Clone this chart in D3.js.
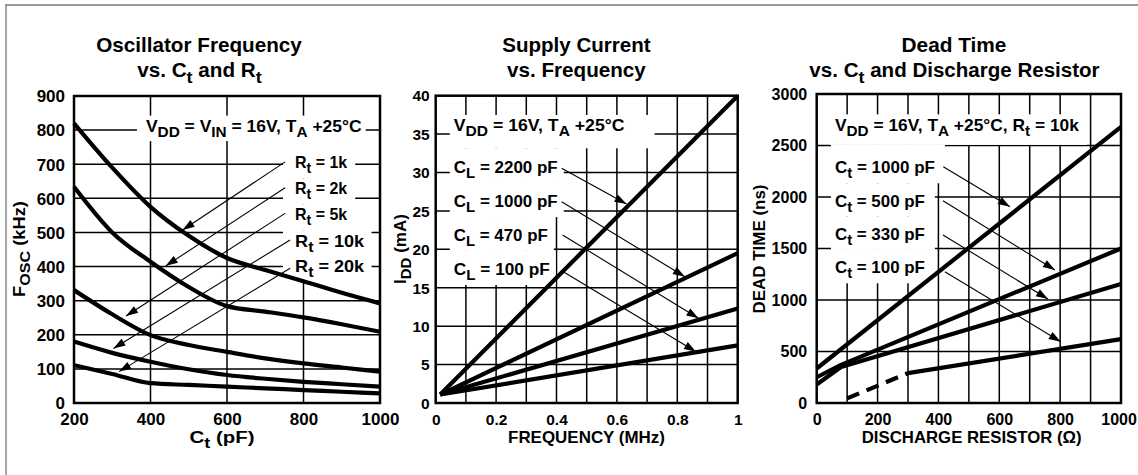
<!DOCTYPE html>
<html><head><meta charset="utf-8">
<script src="https://cdn.jsdelivr.net/npm/d3@7"></script>
<style>
body{margin:0;background:#fff}
svg{display:block}
text{font-family:"Liberation Sans",Arial,Helvetica,sans-serif;font-weight:bold;fill:#000;white-space:pre}
</style>
</head><body><svg id="c" width="1138" height="475"></svg>
<script>
// ================= DATA =================
// Panel 1 : Oscillator Frequency vs Ct and Rt
const ctPF      = [200, 300, 400, 500, 600, 700, 800, 900, 1000];
const fosc1k    = [820, 690, 575, 490, 425, 390, 357, 323, 292];
const fosc2k    = [634, 500, 414, 340, 284, 268, 251, 231, 209];
const fosc5k    = [331, 260, 199, 170, 150, 131, 116, 104, 92];
const fosc10k   = [180, 147, 121, 99, 82, 71, 62, 55, 48];
const fosc20k   = [111, 85, 58, 53, 48, 43, 38, 33, 28];
const rtNames   = ["1k", "2k", "5k", "10k", "20k"];
const foscTicks = [0, 100, 200, 300, 400, 500, 600, 700, 800, 900];
const ctTicks   = [200, 400, 600, 800, 1000];
const ctGrid    = [400, 600, 800];
// annotation anchors (data units)
const p1Header  = [388, 794];
const p1LabelC  = 778;
const p1LabelF  = [688, 612, 536, 457, 383];
const p1Arrows  = [[752, 707, 484, 507], [752, 631, 440, 402], [752, 556, 336, 255], [765, 478, 303, 160], [765, 395, 318, 92]];

// Panel 2 : Supply Current vs Frequency
const freqMHz   = [0.015, 1.0];
const idd2200   = [1.1, 40];
const idd1000   = [1.1, 19.5];
const idd470    = [1.1, 12.3];
const idd100    = [1.1, 7.5];
const clNames   = ["2200 pF", "1000 pF", "470 pF", "100 pF"];
const iddTicks  = [0, 5, 10, 15, 20, 25, 30, 35, 40];
const freqTicks = [0, 0.2, 0.4, 0.6, 0.8, 1];
const freqTickLabels = ["0", "0.2", "0.4", "0.6", "0.8", "1"];
const freqGrid  = [0.1, 0.2, 0.3, 0.4, 0.5, 0.6, 0.7, 0.8, 0.9];
const p2Header  = [0.06, 35.35];
const p2LabelX  = 0.06;
const p2LabelI  = [29.94, 25.5, 21.1, 16.66];
const p2Arrows  = [[0.417, 30.55, 0.632, 25.9], [0.417, 26.2, 0.825, 16.44], [0.42, 21.87, 0.87, 11.03], [0.4225, 17.09, 0.862, 6.68]];

// Panel 3 : Dead Time vs Ct and Discharge Resistor
const rdis1000  = [0, 1000];
const dt1000    = [335, 2680];
const rdis500   = [0, 80, 1000];
const dt500     = [250, 370, 1500];
const rdis330   = [0, 80, 1000];
const dt330     = [180, 350, 1155];
const rdis100a  = [100, 300];          // dashed part
const dt100a    = [45, 290];
const rdis100b  = [300, 1000];         // solid part
const dt100b    = [290, 620];
const ctNames   = ["1000 pF", "500 pF", "330 pF", "100 pF"];
const dtTicks   = [0, 500, 1000, 1500, 2000, 2500, 3000];
const rTicks    = [0, 200, 400, 600, 800, 1000];
const rGrid     = [100, 200, 300, 400, 500, 600, 700, 800, 900];
const p3Header  = [60, 2641];
const p3LabelR  = 60;
const p3LabelT  = [2230, 1906, 1583, 1259];
const p3Arrows  = [[416, 2294, 635, 1906], [415, 1964, 783, 1291], [415, 1631, 760, 1010], [421, 1275, 802, 595]];

// ================= DRAWING =================
const svg = d3.select("#c");
const SVG_W = 1138;

// outer frame lines
svg.append("line").attr("x1",5).attr("y1",5).attr("x2",1138).attr("y2",5).attr("stroke","#777").attr("stroke-width",1.3);
svg.append("line").attr("x1",6).attr("y1",5).attr("x2",6).attr("y2",475).attr("stroke","#777").attr("stroke-width",1.3);

function richText(g, str, x, y, size, subSize, subShift, anchor) {
  const t = g.append("text").attr("x", x).attr("y", y).attr("font-size", size)
    .attr("text-anchor", anchor || "start");
  const parts = str.split(/(\{[^}]*\})/).filter(s => s.length);
  let reset = false;
  parts.forEach(p => {
    if (p[0] === "{") {
      t.append("tspan").attr("font-size", subSize).attr("dy", subShift).text(p.slice(1, -1));
      reset = true;
    } else {
      const ts = t.append("tspan").text(p);
      if (reset) { ts.attr("dy", -subShift); reset = false; }
    }
  });
  return t;
}
function fit(t, target, cx, cy, vertical) {
  const bb = t.node().getBBox();
  const s = target / bb.width;
  if (vertical) t.attr("transform", `rotate(-90 ${cx} ${cy}) translate(${cx} ${cy}) scale(${s},1) translate(${-cx} ${-cy})`);
  else t.attr("transform", `translate(${cx} 0) scale(${s},1) translate(${-cx} 0)`);
  return t;
}
function bbox(t) {
  const b = t.node().getBBox();
  const m = t.node().getCTM();
  const x0 = m.a * b.x + m.e;
  const w = b.width * m.a;
  return {x: x0, y: b.y, w: w, h: b.height, r: x0 + w, b: b.y + b.height};
}
function arrow(g, x1, y1, x2, y2) {
  g.append("line").attr("x1", x1).attr("y1", y1).attr("x2", x2).attr("y2", y2)
    .attr("stroke", "#000").attr("stroke-width", 1.1);
  const a = Math.atan2(y2 - y1, x2 - x1), L = 12, Wd = 4;
  const bx = x2 - L * Math.cos(a), by = y2 - L * Math.sin(a);
  const nx = -Math.sin(a), ny = Math.cos(a);
  g.append("polygon").attr("points", `${x2},${y2} ${bx + nx * Wd},${by + ny * Wd} ${bx - nx * Wd},${by - ny * Wd}`)
    .attr("fill", "#000");
}

function panel(cfg) {
  const g = svg.append("g");
  const x = cfg.x, y = cfg.y;
  const [X0, X1] = x.range(), [Y1, Y0] = y.range();
  // grid
  cfg.xGrid.forEach(v => g.append("line").attr("x1", x(v)).attr("x2", x(v)).attr("y1", Y0).attr("y2", Y1)
    .attr("stroke", "#000").attr("stroke-width", 1.5));
  cfg.yGrid.forEach(v => g.append("line").attr("x1", X0).attr("x2", X1).attr("y1", y(v)).attr("y2", y(v))
    .attr("stroke", "#000").attr("stroke-width", 1.5));
  // axes labels
  const ya = g.append("g").attr("transform", `translate(${X0},0)`)
    .call(d3.axisLeft(y).tickValues(cfg.yTicks).tickSize(0).tickPadding(cfg.yPad).tickFormat(d3.format("d")));
  const xa = g.append("g").attr("transform", `translate(0,${Y1})`)
    .call(d3.axisBottom(x).tickValues(cfg.xTicks).tickSize(0).tickPadding(cfg.tickFs > 16.5 ? 10 : 11)
      .tickFormat((d, i) => cfg.xTickLabels ? cfg.xTickLabels[i] : String(d)));
  [ya, xa].forEach(a => {
    a.select(".domain").remove();
    a.attr("font-family", null).attr("font-size", null);
    a.selectAll("text").attr("font-size", cfg.tickFs).attr("fill", "#000");
  });
  ya.selectAll("text").attr("dy", "0.34em");
  // keep the last x label inside the picture
  xa.selectAll(".tick").each(function () {
    const t = d3.select(this).select("text");
    const b = this.getBBox();
    const tr = this.transform.baseVal.consolidate().matrix;
    const right = tr.e + b.x + b.width;
    if (right > SVG_W - 1) t.attr("x", -(right - (SVG_W - 1)));
  });
  const line = d3.line().x(d => x(d[0])).y(d => y(d[1])).curve(cfg.curve || d3.curveLinear);
  const boxes = g.append("g");
  cfg.series.forEach(s => {
    g.append("path").attr("d", line(s.xs.map((v, i) => [v, s.ys[i]])))
      .attr("fill", "none").attr("stroke", "#000").attr("stroke-width", 4.2)
      .attr("stroke-linejoin", "round").attr("stroke-dasharray", s.dash || null);
  });
  // frame
  g.append("rect").attr("x", X0).attr("y", Y0).attr("width", X1 - X0).attr("height", Y1 - Y0)
    .attr("fill", "none").attr("stroke", "#000").attr("stroke-width", 2.5);
  // annotations
  const tg = g.append("g");
  const hx = x(cfg.header[0]), hy = y(cfg.header[1]);
  const ht = richText(tg, cfg.headerText, hx, hy, 16.5, 14.5, 5, "start");
  fit(ht, cfg.headerW, hx, hy);
  const hb = bbox(ht);
  const hBox = {x0: hx - cfg.hPadL, x1: hb.r + cfg.hPadR, y0: hb.y - 2, y1: hb.b + cfg.hPadB};
  boxes.append("rect").attr("x", hBox.x0).attr("y", hBox.y0).attr("width", hBox.x1 - hBox.x0)
    .attr("height", hBox.y1 - hBox.y0).attr("fill", "#fff");
  let prevBottom = hBox.y1;
  cfg.labels.forEach((lb, i) => {
    const lx = x(cfg.labelX), ly = y(cfg.labelY[i]);
    const t = richText(tg, lb, lx, ly, 16.5, 14.5, 5, "start");
    fit(t, cfg.labelW[i], lx, ly);
    const b = bbox(t);
    const left = cfg.boxLeft != null ? cfg.boxLeft : lx - 4;
    const bot = b.b + 2;
    boxes.append("rect").attr("x", left).attr("y", prevBottom).attr("width", b.r + cfg.lPadR - left)
      .attr("height", bot - prevBottom).attr("fill", "#fff");
    prevBottom = bot;
  });
  cfg.arrows.forEach(a => arrow(tg, x(a[0]), y(a[1]), x(a[2]), y(a[3])));
  // titles
  const t1 = richText(g, cfg.title1, cfg.titleX, 51.7, 19.5, 17, 6, "middle");
  fit(t1, cfg.title1W, cfg.titleX, 51.7);
  const t2 = richText(g, cfg.title2, cfg.titleX2, 77, 19.5, 17, 6, "middle");
  fit(t2, cfg.title2W, cfg.titleX2, 77);
  // axis titles
  const xt = richText(g, cfg.xTitle, cfg.xTitleX, 443.5, 16.5, 14.5, 5, "middle");
  fit(xt, cfg.xTitleW, cfg.xTitleX, 443.5);
  const yt = richText(g, cfg.yTitle, cfg.yTitleX, 249, 16.5, 14.5, 5, "middle");
  fit(yt, cfg.yTitleW, cfg.yTitleX, 249, true);
}

const x1 = d3.scaleLinear([200, 1000], [74, 380]);
const y1 = d3.scaleLinear([0, 900], [403, 96]);
panel({
  x: x1, y: y1, xGrid: ctGrid, yGrid: foscTicks.slice(1, -1), yTicks: foscTicks, xTicks: ctTicks,
  tickFs: 17, yPad: 9,
  curve: d3.curveMonotoneX,
  series: [fosc1k, fosc2k, fosc5k, fosc10k, fosc20k].map(v => ({xs: ctPF, ys: v})),
  header: p1Header, headerText: "V{DD} = V{IN} = 16V, T{A} +25°C", headerW: 216, hPadL: 9, hPadR: 4, hPadB: 1,
  labels: rtNames.map(n => "R{t} = " + n), labelX: p1LabelC, labelY: p1LabelF, labelW: [53, 53, 53, 70, 70],
  boxLeft: 283, lPadR: 7, arrows: p1Arrows,
  title1: "Oscillator Frequency", title1W: 206, titleX: 199, title2: "vs. C{t} and R{t}", title2W: 125, titleX2: 199.5,
  xTitle: "C{t} (pF)", xTitleX: 222, xTitleW: 65,
  yTitle: "F{OSC} (kHz)", yTitleX: 25, yTitleW: 96
});

const x2 = d3.scaleLinear([0, 1], [435.7, 737.7]);
const y2 = d3.scaleLinear([0, 40], [403, 95.7]);
panel({
  x: x2, y: y2, xGrid: freqGrid, yGrid: iddTicks.slice(1, -1), yTicks: iddTicks, xTicks: freqTicks, xTickLabels: freqTickLabels,
  tickFs: 15.5, yPad: 6,
  series: [idd2200, idd1000, idd470, idd100].map(v => ({xs: freqMHz, ys: v})),
  header: p2Header, headerText: "V{DD} = 16V, T{A} +25°C", headerW: 171, hPadL: 4, hPadR: 30, hPadB: 9,
  labels: clNames.map(n => "C{L} = " + n), labelX: p2LabelX, labelY: p2LabelI, labelW: [104, 104, 94, 96],
  boxLeft: null, lPadR: 6, arrows: p2Arrows,
  title1: "Supply Current", title1W: 149, titleX: 576.4, title2: "vs. Frequency", title2W: 139, titleX2: 576.4,
  xTitle: "FREQUENCY (MHz)", xTitleX: 586.5, xTitleW: 157,
  yTitle: "I{DD} (mA)", yTitleX: 406.5, yTitleW: 70
});

const x3 = d3.scaleLinear([0, 1000], [816.7, 1121]);
const y3 = d3.scaleLinear([0, 3000], [403, 94]);
panel({
  x: x3, y: y3, xGrid: rGrid, yGrid: dtTicks.slice(1, -1), yTicks: dtTicks, xTicks: rTicks,
  tickFs: 16, yPad: 9.5,
  series: [
    {xs: rdis1000, ys: dt1000}, {xs: rdis500, ys: dt500}, {xs: rdis330, ys: dt330},
    {xs: rdis100a, ys: dt100a, dash: "13,8"}, {xs: rdis100b, ys: dt100b}
  ],
  header: p3Header, headerText: "V{DD} = 16V, T{A} +25°C, R{t} = 10k", headerW: 245, hPadL: 5, hPadR: 7, hPadB: 6,
  labels: ctNames.map(n => "C{t} = " + n), labelX: p3LabelR, labelY: p3LabelT, labelW: [100, 90, 90, 90],
  boxLeft: null, lPadR: 10, arrows: p3Arrows,
  title1: "Dead Time", title1W: 105, titleX: 954, title2: "vs. C{t} and Discharge Resistor", title2W: 291, titleX2: 954.5,
  xTitle: "DISCHARGE RESISTOR (Ω)", xTitleX: 971.7, xTitleW: 220,
  yTitle: "DEAD TIME (ns)", yTitleX: 765, yTitleW: 129
});
</script>
</body></html>
